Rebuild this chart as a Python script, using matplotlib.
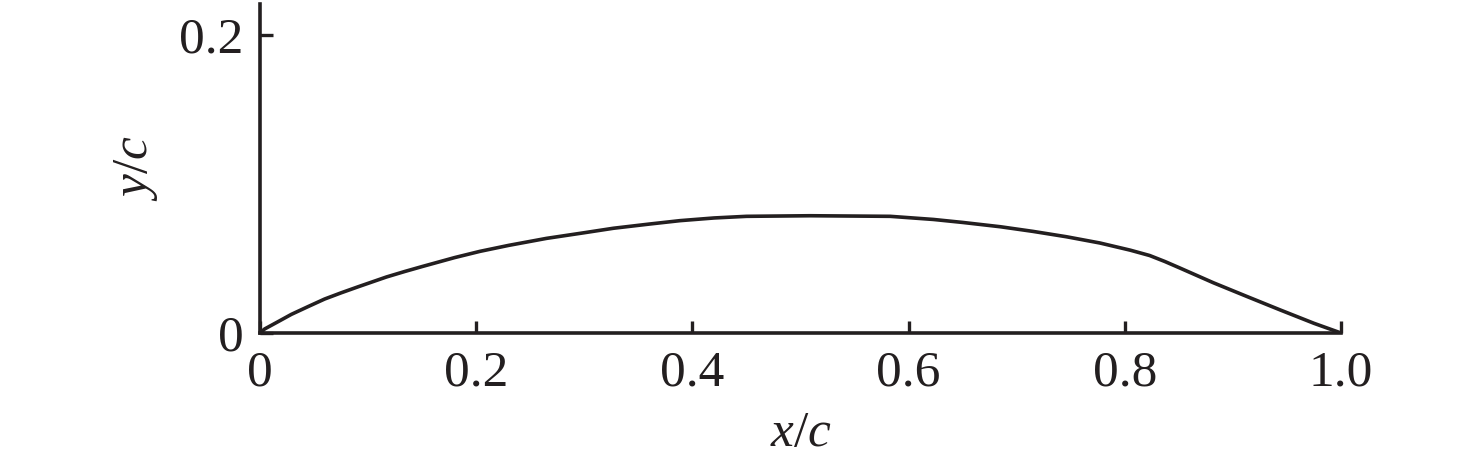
import numpy as np
import matplotlib
matplotlib.use("Agg")
import matplotlib.pyplot as plt

# profile (x/c, y/c)
x_c = [0.0, 0.0043, 0.0167, 0.029, 0.0444, 0.0598, 0.0752, 0.0907, 0.117, 0.134,
       0.150, 0.180, 0.2035, 0.230, 0.265, 0.300, 0.327, 0.360, 0.3885, 0.420,
       0.45, 0.509, 0.583, 0.623, 0.650, 0.685, 0.715, 0.746, 0.777, 0.805,
       0.823, 0.837, 0.851, 0.882, 0.913, 0.944, 0.975, 1.0]
y_c = [0.0, 0.0027, 0.0076, 0.0125, 0.0177, 0.0228, 0.027, 0.031, 0.0376, 0.0413,
       0.0446, 0.0506, 0.0548, 0.0588, 0.0635, 0.0673, 0.0703, 0.0731, 0.0754, 0.0772,
       0.0783, 0.0787, 0.0783, 0.0762, 0.0742, 0.0713, 0.0682, 0.0646, 0.0604, 0.0556,
       0.0520, 0.0480, 0.0436, 0.0337, 0.0245, 0.0154, 0.0065, 0.0]

x_ticks = [0, 0.2, 0.4, 0.6, 0.8, 1.0]
x_ticklabels = ["0", "0.2", "0.4", "0.6", "0.8", "1.0"]
y_ticks = [0, 0.2]
y_ticklabels = ["0", "0.2"]

plt.rcParams["font.family"] = "Liberation Serif"
plt.rcParams["mathtext.fontset"] = "custom"
plt.rcParams["mathtext.rm"] = "Liberation Serif"
plt.rcParams["mathtext.it"] = "Liberation Serif:italic"

fig = plt.figure(figsize=(14.76, 4.72), dpi=100)
ax = fig.add_axes([260 / 1476, 139 / 472, 1081 / 1476, 329 / 472])

ax.plot(x_c, y_c, color="#231f20", lw=2.6, solid_joinstyle="round")

ax.set_xlim(0, 1.0)
ax.set_ylim(0, 0.2208)
ax.spines["top"].set_visible(False)
ax.spines["right"].set_visible(False)
for s in ("left", "bottom"):
    ax.spines[s].set_linewidth(2.6)
    ax.spines[s].set_color("#231f20")

ax.set_xticks(x_ticks)
ax.set_xticklabels(x_ticklabels)
ax.set_yticks(y_ticks)
ax.set_yticklabels(y_ticklabels)
ax.tick_params(direction="in", length=9, width=2.4, colors="#231f20",
               labelsize=37, pad=12)

ax.set_xlabel(r"$x\mathrm{/}c$", fontsize=37, color="#231f20", labelpad=10)
ax.set_ylabel(r"$y\mathrm{/}c$", fontsize=37, color="#231f20", labelpad=14)

fig.savefig("out.png", dpi=100)
